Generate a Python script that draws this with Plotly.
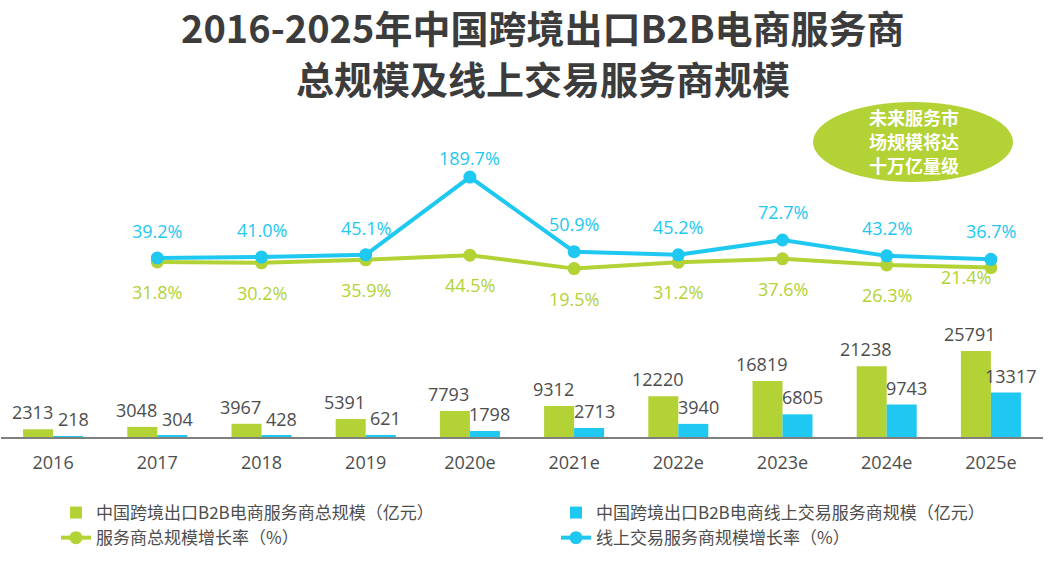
import plotly.graph_objects as go

categories = ["2016", "2017", "2018", "2019", "2020e", "2021e", "2022e", "2023e", "2024e", "2025e"]
total_scale = [2313, 3048, 3967, 5391, 7793, 9312, 12220, 16819, 21238, 25791]
online_scale = [218, 304, 428, 621, 1798, 2713, 3940, 6805, 9743, 13317]
growth_categories = categories[1:]
total_growth = [31.8, 30.2, 35.9, 44.5, 19.5, 31.2, 37.6, 26.3, 21.4]
online_growth = [39.2, 41.0, 45.1, 189.7, 50.9, 45.2, 72.7, 43.2, 36.7]

GREEN = "#B2D235"
BLUE = "#1EC8F0"
TXT = "#4D4D4D"
FONT = "Open Sans, Noto Sans CJK SC, sans-serif"
CJK = "Noto Sans CJK SC, sans-serif"

fig = go.Figure()
fig.add_trace(go.Bar(
    x=categories, y=total_scale, name="中国跨境出口B2B电商服务商总规模（亿元）",
    marker=dict(color=GREEN, line=dict(width=0)), yaxis="y",
))
fig.add_trace(go.Bar(
    x=categories, y=online_scale, name="中国跨境出口B2B电商线上交易服务商规模（亿元）",
    marker=dict(color=BLUE, line=dict(width=0)), yaxis="y",
))
fig.add_trace(go.Scatter(
    x=growth_categories, y=total_growth, name="服务商总规模增长率（%）", mode="lines+markers",
    line=dict(color=GREEN, width=4), marker=dict(size=13, color=GREEN), yaxis="y2", cliponaxis=False,
))
fig.add_trace(go.Scatter(
    x=growth_categories, y=online_growth, name="线上交易服务商规模增长率（%）", mode="lines+markers",
    line=dict(color=BLUE, width=4), marker=dict(size=13, color=BLUE), yaxis="y2", cliponaxis=False,
))

annotations = []
# bar value labels (x = category index, offset to the bar of its group)
BAR_OFF = 0.144  # half of one bar width in category units
for i, v in enumerate(total_scale):
    annotations.append(dict(x=i - BAR_OFF, y=v, xref="x", yref="y", text=str(v), showarrow=False,
                            xanchor="center", yanchor="bottom", xshift=-6, yshift=3,
                            font=dict(size=18, color=TXT, family=FONT)))
for i, v in enumerate(online_scale):
    annotations.append(dict(x=i + BAR_OFF, y=v, xref="x", yref="y", text=str(v), showarrow=False,
                            xanchor="center", yanchor="bottom", xshift=5, yshift=3,
                            font=dict(size=18, color=TXT, family=FONT)))

# value labels for the growth lines
blue_shift = [27, 27, 27, 19, 28, 28, 28, 28, 28]
green_shift = [-30, -30, -30, -30, -30, -30, -30, -30, -9]
green_xshift = [0, 0, 0, 0, 0, 0, 0, 0, -25]
for i, v in enumerate(online_growth):
    annotations.append(dict(x=categories.index(growth_categories[i]), y=v, xref="x", yref="y2",
                            text=f"{v:.1f}%", showarrow=False, yshift=blue_shift[i],
                            font=dict(size=18, color=BLUE, family=FONT)))
for i, v in enumerate(total_growth):
    annotations.append(dict(x=categories.index(growth_categories[i]), y=v, xref="x", yref="y2",
                            text=f"{v:.1f}%", showarrow=False, yshift=green_shift[i], xshift=green_xshift[i],
                            font=dict(size=18, color=GREEN, family=FONT)))

# plot area: x 1..1043, y 100..437 (px)
def py(pix):
    return (437 - pix) / 337.0

def px(pix):
    return (pix - 1) / 1042.0

title_lines = ["2016-2025年中国跨境出口B2B电商服务商", "总规模及线上交易服务商规模"]
for line, ypix in zip(title_lines, [27, 78]):
    annotations.append(dict(x=px(543), y=py(ypix), xref="paper", yref="paper", text=f"<b>{line}</b>",
                            showarrow=False, xanchor="center", yanchor="middle",
                            font=dict(size=38, color="#3C3C3C", family=CJK)))

bubble_lines = ["未来服务市", "场规模将达", "十万亿量级"]
for line, ypix in zip(bubble_lines, [117, 141, 165]):
    annotations.append(dict(x=px(914), y=py(ypix), xref="paper", yref="paper", text=f"<b>{line}</b>",
                            showarrow=False, xanchor="center", yanchor="middle",
                            font=dict(size=18, color="white", family=CJK)))

shapes = [dict(type="circle", xref="paper", yref="paper", x0=px(813), x1=px(1013), y0=py(182), y1=py(102),
               fillcolor=GREEN, line=dict(width=0), layer="below")]

fig.update_layout(
    width=1053, height=579,
    margin=dict(l=1, r=10, t=100, b=142, autoexpand=False),
    paper_bgcolor="white", plot_bgcolor="white",
    barmode="group", bargap=0.424, bargroupgap=0,
    font=dict(family=FONT, color=TXT),
    xaxis=dict(type="category", range=[-0.5, 9.5], showline=True, linecolor="#7F7F7F", linewidth=1.5,
               ticks="outside", ticklen=9, tickcolor="rgba(0,0,0,0)", automargin=False,
               tickfont=dict(size=18, color=TXT, family=FONT), showgrid=False, zeroline=False),
    yaxis=dict(range=[0, 101080], visible=False, showgrid=False, zeroline=False),
    yaxis2=dict(range=[-293.5, 332.9], overlaying="y", visible=False, showgrid=False, zeroline=False),
    showlegend=True,
    legend=dict(orientation="h", x=px(56), y=py(495), xanchor="left", yanchor="top",
                entrywidth=455, entrywidthmode="pixels", traceorder="normal",
                font=dict(size=17, color=TXT, family=CJK), itemwidth=30, tracegroupgap=0),
    annotations=annotations, shapes=shapes,
)

fig.write_html("out.html", config={"displayModeBar": False},
               post_script="document.body.style.margin='0';")
